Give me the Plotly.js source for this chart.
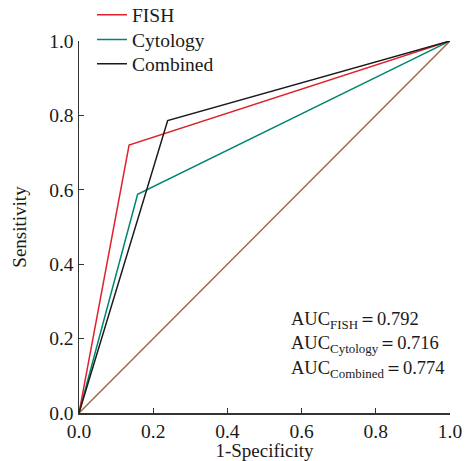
<!DOCTYPE html>
<html>
<head>
<meta charset="utf-8">
<script src="https://cdn.plot.ly/plotly-3.0.1.min.js"></script>
<style>html,body{margin:0;padding:0;background:#fff;}#chart{width:466px;height:461px;}</style>
</head>
<body>
<div id="chart"></div>
<script>
// Data
const seriesNames = ["FISH", "Cytology", "Combined"];
const fishX = [0, 0.135, 1];
const fishY = [0, 0.72, 1];
const cytoX = [0, 0.158, 1];
const cytoY = [0, 0.588, 1];
const combX = [0, 0.239, 1];
const combY = [0, 0.786, 1];
const refX = [0, 1];
const refY = [0, 1];
const aucLabels = ["FISH", "Cytology", "Combined"];
const aucValues = ["0.792", "0.716", "0.774"];
const tickVals = [0, 0.2, 0.4, 0.6, 0.8, 1.0];
const tickText = ["0.0", "0.2", "0.4", "0.6", "0.8", "1.0"];

const colors = ["#e0202a", "#00866f", "#1a1a1a"];
const font = "Liberation Serif, Times New Roman, serif";

const traces = [
  {x: refX, y: refY, mode: "lines", line: {color: "#a0674a", width: 1.5}, showlegend: false, hoverinfo: "skip"},
  {x: cytoX, y: cytoY, name: seriesNames[1], mode: "lines", line: {color: colors[1], width: 1.5}, legend: "legend2"},
  {x: fishX, y: fishY, name: seriesNames[0], mode: "lines", line: {color: colors[0], width: 1.5}, legend: "legend"},
  {x: combX, y: combY, name: seriesNames[2], mode: "lines", line: {color: colors[2], width: 1.5}, legend: "legend3"}
];

const annY = [0.25, 0.183, 0.116];
const annotations = aucLabels.map((lab, i) => ({
  xref: "paper", yref: "paper", x: 0.567, y: annY[i], xanchor: "left", yanchor: "middle",
  text: "AUC<sub>" + lab + "</sub>＝" + aucValues[i], showarrow: false,
  font: {family: font, size: 18.5, color: "#1a1a1a"}, align: "left"
}));

const axisCommon = {
  range: [0, 1], tickvals: tickVals, ticktext: tickText, ticks: "inside", ticklen: 5, tickwidth: 1.2,
  tickcolor: "#333", showline: true, linecolor: "#333", linewidth: 1.5, showgrid: false, zeroline: false,
  tickfont: {family: font, size: 19.5, color: "#1a1a1a"}, fixedrange: true, automargin: false
};

const legendCommon = {xanchor: "left", yanchor: "middle", font: {family: font, size: 19.5, color: "#1a1a1a"},
  bgcolor: "rgba(0,0,0,0)", itemwidth: 30};

const layout = {
  width: 466, height: 461,
  margin: {l: 79, r: 16, t: 41, b: 48, autoexpand: false},
  paper_bgcolor: "#fff", plot_bgcolor: "#fff",
  font: {family: font, color: "#1a1a1a"},
  xaxis: Object.assign({}, axisCommon, {title: {text: "1-Specificity", font: {family: font, size: 19}, standoff: 2}}),
  yaxis: Object.assign({}, axisCommon, {title: {text: "Sensitivity", font: {family: font, size: 19}, standoff: 17}}),
  showlegend: true,
  legend: Object.assign({}, legendCommon, {x: 0.035, y: 1.070}),
  legend2: Object.assign({}, legendCommon, {x: 0.035, y: 1.003}),
  legend3: Object.assign({}, legendCommon, {x: 0.035, y: 0.938}),
  annotations: annotations
};

Plotly.newPlot("chart", traces, layout, {displayModeBar: false, staticPlot: true});
</script>
</body>
</html>
